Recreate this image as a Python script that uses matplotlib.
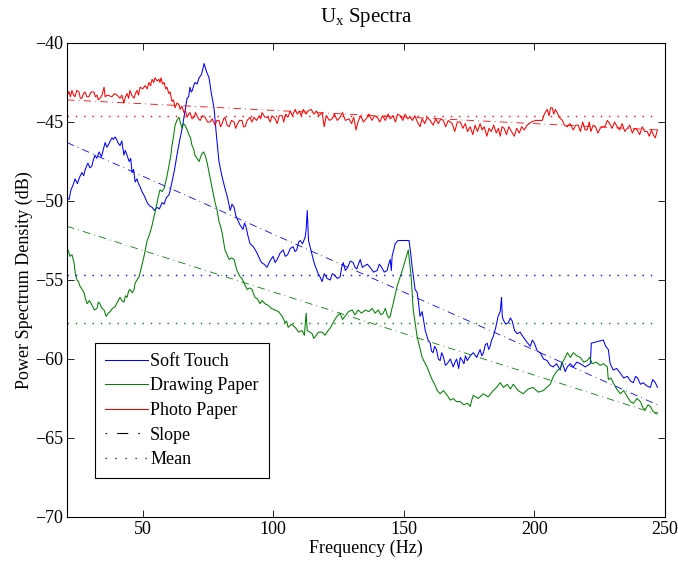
import matplotlib.pyplot as plt
import numpy as np

# Soft Touch (blue)
soft_hz = [21.0, 21.8, 22.5, 23.3, 24.1, 25.0, 25.8, 26.7, 27.4, 28.0, 29.0, 29.8, 30.5, 31.1, 31.7,
           32.4, 33.3, 34.2, 35.0, 35.6, 36.3, 37.0, 37.6, 38.2, 38.8, 39.4, 40.0, 40.5, 41.3, 42.0,
           42.8, 43.3, 43.8, 44.8, 45.4, 45.9, 46.5, 47.1, 47.8, 48.4, 49.0, 49.7, 50.7, 51.7, 52.6,
           53.6, 54.5, 55.5, 56.4, 57.4, 58.2, 59.0, 60.1, 60.7, 61.2, 62.2, 63.1, 64.1, 65.1, 66.0,
           67.0, 67.6, 68.1, 68.6, 69.0, 69.5, 70.0, 70.8, 71.6, 72.5, 73.5, 74.4, 75.4, 76.3, 77.3,
           78.2, 79.2, 80.3, 81.5, 82.5, 83.5, 84.2, 85.0, 85.6, 86.1, 87.2, 88.4, 89.0, 89.5, 90.3,
           91.1, 92.4, 93.8, 94.6, 95.5, 96.5, 97.6, 98.7, 99.9, 100.7, 101.5, 102.6, 103.8, 104.6,
           105.5, 106.5, 107.6, 108.3, 109.0, 109.7, 110.3, 111.2, 112.2, 112.6, 113.0, 113.5, 114.4,
           115.3, 116.0, 116.5, 117.2, 117.9, 118.7, 119.5, 120.6, 121.8, 122.6, 123.5, 124.5, 125.6,
           126.2, 126.8, 127.6, 128.5, 129.5, 130.6, 131.3, 132.0, 132.6, 133.3, 134.1, 135.0, 136.0,
           137.1, 138.4, 139.8, 140.6, 141.5, 142.5, 143.6, 144.2, 144.8, 145.2, 145.5, 146.1, 146.7,
           147.8, 152.0, 152.6, 153.2, 154.3, 155.1, 155.6, 156.2, 157.0, 157.6, 158.2, 159.3, 160.1,
           160.6, 161.2, 161.8, 162.5, 163.2, 163.9, 164.5, 165.2, 165.9, 166.6, 167.8, 168.9, 169.6,
           170.2, 171.0, 171.6, 172.4, 173.0, 173.6, 174.3, 175.4, 176.6, 177.9, 179.2, 179.9, 180.5,
           181.2, 181.9, 182.5, 183.0, 183.6, 184.2, 185.2, 186.1, 186.9, 187.4, 187.7, 188.0, 189.0,
           190.0, 190.8, 191.5, 192.4, 193.4, 194.5, 195.7, 197.0, 198.4, 199.2, 200.0, 201.1, 202.2,
           203.5, 204.9, 206.0, 207.2, 208.5, 209.9, 210.5, 211.0, 211.8, 212.6, 213.7, 214.9, 216.2,
           217.6, 219.5, 221.4, 221.8, 224.0, 226.4, 227.3, 228.3, 229.0, 229.6, 230.2, 231.5, 232.9,
           234.2, 235.6, 236.8, 237.9, 238.7, 239.5, 240.6, 241.7, 243.0, 244.4, 245.3, 246.3, 247.1]
soft_db = [-49.8, -49.9, -49.3, -49.0, -48.6, -48.9, -48.5, -48.2, -48.4, -48.0, -47.6, -47.9, -47.8, -47.4, -47.1,
           -47.3, -46.9, -47.2, -46.7, -46.3, -46.6, -46.4, -46.2, -46.0, -46.1, -45.95, -46.1, -46.3, -46.5, -46.2,
           -47.1, -46.8, -47.0, -47.5, -47.3, -48.2, -48.0, -48.8, -48.6, -48.9, -49.1, -49.4, -49.7, -50.1, -50.3,
           -50.4, -50.6, -50.4, -50.5, -50.1, -50.2, -49.8, -49.6, -49.2, -48.8, -48.0, -47.1, -46.2, -45.4, -44.5,
           -43.5, -43.4, -42.8, -43.1, -43.0, -42.7, -42.5, -42.6, -42.2, -42.0, -41.3, -41.8, -42.2, -43.2, -44.1,
           -45.8, -47.5, -48.4, -49.2, -49.8, -50.6, -50.2, -50.4, -50.9, -51.1, -51.5, -51.8, -51.4, -51.6, -52.2,
           -52.7, -52.9, -53.3, -53.6, -53.9, -54.0, -54.2, -53.8, -53.5, -53.9, -53.7, -53.3, -53.1, -53.5,
           -53.4, -53.0, -52.9, -53.2, -53.1, -52.6, -52.5, -52.7, -52.3, -51.8, -50.6, -52.5, -53.1,
           -53.7, -54.1, -54.3, -54.6, -54.8, -55.1, -54.6, -54.9, -55.0, -54.6, -54.7, -54.9, -54.8,
           -54.2, -53.9, -54.4, -54.2, -53.8, -53.9, -54.2, -54.3, -54.0, -53.7, -54.2, -54.1, -54.0,
           -54.2, -54.5, -54.4, -54.0, -54.2, -54.5, -54.4, -54.0, -53.7, -54.4, -53.5, -53.1, -52.7,
           -52.5, -52.5, -53.3, -54.2, -55.6, -55.8, -56.4, -57.3, -57.0, -57.6, -58.2, -58.8, -59.0,
           -59.5, -59.6, -59.2, -59.4, -60.0, -60.1, -59.6, -59.9, -60.4, -60.3, -60.0, -60.5, -60.2,
           -60.0, -60.6, -59.9, -60.1, -60.3, -59.8, -60.1, -59.8, -59.6, -59.9, -59.4, -59.8, -59.6,
           -59.1, -59.0, -59.4, -59.2, -58.8, -58.6, -58.0, -57.3, -57.0, -56.1, -57.3, -57.5, -57.8,
           -57.7, -57.4, -57.6, -58.2, -58.4, -58.3, -58.6, -58.9, -59.2, -58.8, -59.0, -59.5, -59.6,
           -60.0, -60.1, -60.4, -60.5, -60.3, -60.7, -60.2, -60.4, -60.8, -60.5, -60.3, -60.5, -60.2,
           -60.3, -60.5, -60.3, -59.0, -58.9, -58.8, -59.2, -59.4, -60.3, -60.5, -60.7, -60.6, -60.9,
           -61.2, -61.1, -61.4, -61.5, -61.1, -61.2, -61.6, -61.5, -61.7, -61.8, -61.3, -61.5, -61.8]

# Drawing Paper (green)
draw_hz = [21.0, 21.8, 22.1, 22.9, 23.7, 24.2, 24.8, 25.4, 26.0, 26.8, 27.5, 28.1, 28.7, 29.6, 30.6,
           31.5, 32.5, 33.0, 33.6, 34.4, 35.2, 36.0, 36.8, 37.5, 38.4, 39.4, 40.3, 41.3, 42.0, 42.8,
           43.4, 44.0, 44.6, 45.1, 46.0, 46.7, 47.1, 47.8, 48.6, 49.5, 50.5, 51.1, 51.7, 52.2, 52.8,
           53.5, 54.3, 54.9, 55.5, 56.0, 56.6, 57.4, 58.2, 59.2, 60.1, 60.7, 61.2, 61.8, 62.4, 63.1,
           63.9, 64.5, 65.1, 65.6, 66.2, 67.0, 67.7, 68.3, 68.9, 69.5, 70.0, 70.8, 71.6, 72.2, 72.7,
           73.3, 73.9, 74.7, 75.4, 76.0, 76.6, 77.7, 78.5, 79.2, 79.8, 80.4, 81.5, 82.3, 83.1, 84.0,
           85.0, 85.6, 86.1, 86.7, 87.3, 88.0, 88.8, 89.4, 90.0, 91.0, 91.9, 92.5, 93.0, 94.0, 94.9,
           95.7, 96.8, 98.0, 99.3, 100.7, 102.0, 103.4, 104.0, 104.5, 105.1, 105.7, 107.0, 108.4, 109.7,
           111.0, 111.9, 112.6, 113.0, 114.0, 114.9, 115.5, 116.0, 117.3, 118.7, 119.8, 121.0, 122.0,
           122.9, 123.6, 124.4, 125.0, 125.6, 126.5, 127.5, 128.8, 130.2, 131.3, 132.5, 133.8, 135.2,
           136.5, 137.9, 139.0, 140.2, 141.2, 142.1, 142.9, 143.6, 144.2, 144.8, 145.3, 145.9, 147.4,
           149.4, 151.7, 152.8, 153.6, 154.4, 155.1, 156.0, 157.0, 157.9, 158.9, 159.8, 160.8, 161.8,
           162.8, 163.9, 165.2, 166.6, 167.8, 168.9, 170.2, 171.6, 173.0, 174.3, 175.4, 176.0, 176.6,
           178.5, 180.4, 182.3, 184.2, 185.5, 186.9, 188.2, 189.6, 190.8, 191.9, 193.8, 195.7, 197.6,
           199.5, 201.5, 203.4, 204.7, 206.1, 207.0, 208.0, 209.0, 209.9, 210.8, 211.8, 212.6, 213.8,
           214.9, 216.2, 217.6, 218.9, 220.2, 221.2, 222.1, 223.6, 225.2, 226.5, 227.9, 228.3, 229.3,
           230.2, 231.5, 232.9, 234.2, 235.6, 236.8, 237.9, 239.3, 240.6, 241.6, 242.5, 243.5, 244.4,
           245.4, 246.3, 247.1]
draw_db = [-52.9, -53.3, -53.5, -53.4, -53.9, -54.6, -55.0, -55.1, -55.4, -55.6, -55.8, -56.2, -56.5, -56.3, -56.6,
           -56.9, -56.8, -56.4, -56.5, -56.8, -56.9, -57.3, -57.1, -57.0, -56.8, -56.7, -56.4, -56.1, -56.3, -56.4,
           -56.0, -56.1, -55.7, -55.6, -55.8, -55.6, -55.2, -55.0, -54.8, -54.2, -53.5, -53.0, -52.5, -52.3, -52.0,
           -51.6, -51.0, -50.6, -50.1, -49.7, -49.3, -49.4, -49.2, -48.5, -47.7, -47.2, -46.5, -45.9, -45.2, -44.9,
           -44.7, -45.1, -45.4, -45.1, -45.2, -45.5, -45.8, -46.0, -46.5, -46.7, -47.1, -47.3, -47.5, -47.2, -47.0,
           -46.9, -47.1, -47.6, -48.2, -48.7, -49.2, -50.1, -50.6, -51.3, -51.6, -52.0, -53.1, -53.4, -53.7, -53.6,
           -53.7, -54.1, -54.4, -54.6, -54.8, -54.9, -55.2, -55.4, -55.6, -55.5, -55.6, -55.9, -56.1, -56.2, -56.5,
           -56.3, -56.5, -56.6, -56.8, -56.9, -57.0, -57.3, -57.5, -57.7, -57.6, -58.0, -57.8, -58.0, -58.3,
           -58.2, -58.5, -57.1, -58.2, -58.3, -58.4, -58.7, -58.6, -58.3, -58.3, -58.5, -58.2, -58.0,
           -57.7, -57.5, -57.3, -57.2, -57.1, -57.5, -57.3, -57.0, -56.9, -57.2, -56.9, -57.1, -56.9,
           -57.0, -56.8, -57.1, -56.9, -57.2, -57.1, -56.8, -57.2, -57.4, -57.3, -56.9, -56.5, -55.4,
           -54.4, -53.1, -54.8, -56.9, -57.8, -58.6, -59.2, -59.9, -60.2, -60.5, -60.9, -61.3, -61.6,
           -62.0, -62.2, -62.0, -62.3, -62.6, -62.5, -62.7, -62.7, -62.9, -62.8, -63.0, -62.6, -62.3,
           -62.5, -62.2, -62.4, -62.0, -61.8, -61.5, -61.8, -61.6, -61.9, -61.6, -62.0, -62.2, -61.9,
           -61.8, -62.1, -62.0, -61.8, -61.6, -61.2, -60.9, -60.7, -60.6, -60.2, -59.9, -59.6, -59.9,
           -59.6, -59.8, -59.9, -60.2, -60.1, -59.9, -60.3, -60.2, -60.4, -60.3, -60.5, -61.3, -61.2,
           -61.5, -61.9, -62.2, -62.0, -62.4, -62.7, -62.8, -62.5, -62.7, -63.1, -63.2, -62.9, -63.0,
           -63.3, -63.4, -63.4]

# Photo Paper (red)
photo_hz = [21.0, 21.5, 21.8, 22.3, 22.9, 23.5, 24.1, 24.7, 25.6, 26.1, 26.7, 27.3, 27.9, 28.6, 29.4,
            30.2, 31.3, 31.9, 32.5, 33.0, 33.6, 34.4, 35.2, 35.6, 36.5, 38.2, 39.2, 40.2, 41.3, 42.0,
            42.8, 43.4, 44.0, 44.6, 45.1, 45.8, 46.7, 47.2, 47.8, 48.4, 49.0, 50.0, 50.9, 51.7, 52.4,
            53.0, 53.6, 54.2, 54.7, 55.5, 56.2, 56.6, 57.0, 57.6, 58.2, 58.8, 59.3, 60.0, 60.5, 61.2,
            61.8, 62.4, 63.1, 63.9, 64.3, 65.0, 65.8, 66.4, 67.0, 67.6, 68.1, 68.9, 69.7, 70.2, 70.8,
            71.4, 72.0, 72.9, 73.9, 74.8, 75.8, 76.6, 77.7, 78.4, 79.2, 79.8, 80.4, 81.0, 81.5, 82.3,
            83.1, 84.0, 85.0, 85.6, 86.1, 87.0, 88.0, 88.6, 89.2, 90.0, 91.1, 91.8, 92.6, 93.6, 94.6,
            95.2, 95.7, 96.8, 98.0, 98.8, 99.5, 100.7, 101.5, 102.3, 103.4, 104.0, 104.8, 105.6, 106.5,
            107.3, 108.4, 109.2, 110.0, 110.7, 111.5, 112.5, 113.3, 114.5, 115.6, 116.5, 117.5, 118.7,
            119.5, 120.3, 121.5, 122.5, 123.4, 124.5, 125.6, 126.5, 127.6, 129.0, 130.0, 130.8, 131.7,
            132.6, 133.6, 134.5, 135.6, 136.6, 137.8, 138.8, 139.8, 140.8, 141.8, 142.9, 144.0, 144.8,
            145.8, 146.8, 147.6, 148.6, 149.6, 150.5, 151.4, 152.4, 153.3, 154.2, 155.2, 156.2, 157.0,
            158.0, 159.0, 160.1, 161.2, 162.2, 163.2, 164.2, 165.1, 166.0, 167.0, 168.5, 169.5, 170.5,
            171.6, 172.6, 173.5, 174.4, 175.4, 176.4, 177.3, 178.2, 179.2, 180.0, 180.8, 181.8, 182.6,
            183.5, 184.4, 185.4, 186.2, 186.9, 187.6, 188.4, 189.3, 190.2, 191.2, 192.3, 193.2, 194.2,
            195.1, 196.1, 197.2, 198.8, 200.5, 202.0, 203.0, 203.8, 204.9, 205.6, 206.2, 206.8, 207.4,
            208.0, 208.7, 209.5, 210.7, 211.5, 212.6, 213.6, 214.9, 215.8, 216.8, 217.6, 218.5, 219.4,
            220.2, 221.0, 221.6, 222.5, 223.4, 224.3, 225.2, 226.0, 227.0, 227.9, 228.8, 229.8, 230.7,
            231.7, 232.6, 233.6, 234.6, 235.6, 236.5, 237.5, 238.4, 239.4, 240.3, 241.3, 242.2, 243.2,
            244.0, 244.8, 245.5, 246.3, 247.1]
photo_db = [-42.8, -43.2, -43.1, -43.4, -43.0, -43.3, -43.4, -43.0, -43.1, -43.5, -43.5, -43.2, -43.1, -43.4, -43.4,
            -43.1, -43.1, -43.4, -43.3, -43.6, -43.5, -43.3, -42.8, -43.4, -43.3, -43.4, -43.2, -43.3, -43.5, -43.3,
            -43.8, -43.4, -43.2, -43.5, -43.0, -43.3, -43.5, -43.2, -43.0, -43.3, -42.8, -42.9, -42.7, -42.9, -42.5,
            -42.7, -42.3, -42.5, -42.2, -42.4, -42.3, -42.5, -42.2, -42.6, -42.5, -42.9, -42.8, -43.2, -43.1, -43.7,
            -43.6, -44.1, -43.8, -43.9, -44.2, -44.0, -44.4, -44.3, -44.7, -44.5, -44.4, -44.8, -44.7, -44.4, -44.6,
            -44.8, -44.9, -44.6, -44.7, -45.0, -45.0, -44.8, -45.2, -44.9, -44.9, -45.3, -45.1, -44.8, -44.7, -45.2,
            -45.3, -44.9, -45.0, -45.4, -45.2, -44.9, -44.9, -45.3, -45.3, -44.9, -44.7, -45.0, -44.7, -44.9, -44.6,
            -44.8, -44.4, -44.7, -44.7, -45.0, -44.6, -44.8, -45.1, -44.6, -44.6, -45.0, -44.5, -44.7, -44.3,
            -44.6, -44.2, -44.5, -44.3, -44.6, -44.2, -44.5, -44.3, -44.2, -44.5, -44.3, -44.6, -44.4,
            -45.3, -44.6, -44.9, -44.8, -44.5, -44.9, -44.7, -44.4, -44.9, -44.8, -45.1, -44.7, -45.5,
            -44.9, -44.6, -45.0, -44.8, -44.5, -44.9, -44.6, -44.7, -45.0, -44.6, -44.9, -44.5, -44.8,
            -44.6, -45.0, -44.5, -44.6, -44.9, -44.5, -44.8, -44.7, -44.9, -44.6, -45.0, -45.3, -44.8,
            -45.1, -44.7, -44.9, -45.2, -44.8, -45.1, -44.8, -44.9, -45.3, -44.9, -45.1, -45.6, -45.0,
            -45.0, -45.4, -45.1, -45.6, -45.3, -45.8, -45.2, -45.6, -45.1, -45.5, -45.3, -45.9, -45.4,
            -45.6, -45.2, -45.7, -45.4, -45.9, -45.3, -45.4, -45.8, -45.3, -45.6, -45.9, -45.4, -45.7,
            -45.3, -45.5, -45.2, -45.0, -44.9, -44.9, -44.9, -44.5, -44.2, -44.6, -44.1, -44.1, -44.5,
            -44.2, -44.4, -44.7, -44.9, -45.2, -45.3, -45.1, -45.5, -45.2, -45.2, -45.6, -45.0, -45.5,
            -45.5, -45.0, -45.6, -45.2, -45.3, -45.7, -45.4, -45.3, -45.3, -44.9, -45.1, -45.4, -45.0,
            -45.3, -45.5, -45.1, -45.6, -45.4, -45.2, -45.7, -45.4, -45.5, -45.8, -45.3, -45.6, -45.6,
            -45.9, -45.5, -45.8, -46.0, -45.5]

# linear fit ends (dB at first / last freq) and means
slope_hz = [21.0, 247.1]
soft_slope = [-46.3, -62.9]
draw_slope = [-51.6, -63.5]
photo_slope = [-43.6, -45.5]
soft_mean = -54.7
draw_mean = -57.7
photo_mean = -44.6

plt.rcParams['font.family'] = ['Liberation Serif', 'DejaVu Serif']
plt.rcParams['mathtext.fontset'] = 'custom'
plt.rcParams['mathtext.rm'] = 'Liberation Serif'
plt.rcParams['mathtext.it'] = 'Liberation Serif'

fig = plt.figure(figsize=(6.78, 5.68), dpi=100)
ax = fig.add_axes([0.0988, 0.0898, 0.882, 0.8345])

blue = (0, 0, 1)
green = (0, 0.5, 0)
red = (1, 0, 0)
lw = 0.75
dashdot = (9, 5, 1, 5)
dots = (1, 5)

l1, = ax.plot(soft_hz, soft_db, color=blue, lw=lw)
l2, = ax.plot(draw_hz, draw_db, color=green, lw=lw)
l3, = ax.plot(photo_hz, photo_db, color=red, lw=lw)

for sl, c in [(soft_slope, blue), (draw_slope, green), (photo_slope, red)]:
    ax.plot(slope_hz, sl, color=c, lw=0.6, dashes=dashdot)
for m, c in [(soft_mean, blue), (draw_mean, green), (photo_mean, red)]:
    ax.plot(slope_hz, [m, m], color=c, lw=1.0, dashes=dots)

# legend-only handles
l4, = ax.plot([], [], color='k', lw=0.8, dashes=(1.5, 9, 10, 9))
l5, = ax.plot([], [], color='k', lw=0.9, dashes=(1, 7))

ax.set_xlim(21, 250)
ax.set_ylim(-70, -40)
ax.set_xticks([50, 100, 150, 200, 250])
ax.set_yticks([-70, -65, -60, -55, -50, -45, -40])
ax.tick_params(direction='in', top=True, right=True, labelsize=13, length=5, width=0.6, pad=3)
for s in ax.spines.values():
    s.set_linewidth(0.8)

ax.set_xlabel('Frequency (Hz)', fontsize=13, labelpad=1)
ax.set_ylabel('Power Spectrum Density (dB)', fontsize=13, labelpad=1)
ax.set_title('$\\mathregular{U_x}$ Spectra', fontsize=15, pad=15)

leg = ax.legend([l1, l2, l3, l4, l5],
                ['Soft Touch', 'Drawing Paper', 'Photo Paper', 'Slope', 'Mean'],
                loc='lower left', bbox_to_anchor=(0.047, 0.082), fontsize=13, frameon=True,
                fancybox=False, edgecolor='k', framealpha=1, handlelength=2.4, handletextpad=0.1,
                labelspacing=0.42, borderpad=0.55, borderaxespad=0)
leg.get_frame().set_linewidth(0.8)

fig.savefig('out.png', dpi=100)
